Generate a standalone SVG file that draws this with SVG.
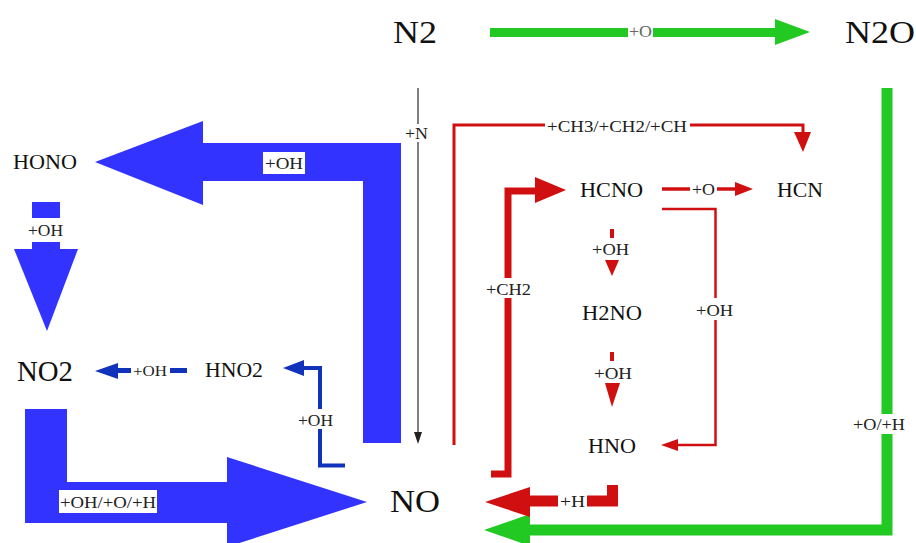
<svg xmlns="http://www.w3.org/2000/svg" width="916" height="543" viewBox="0 0 916 543">
<style>
text{font-family:"Liberation Serif","Times New Roman",serif;fill:#111}
.big{font-size:31px}
.mid{font-size:21px}
.lbl{font-size:16px;fill:#222}
.bg{fill:#fff}
.blue{fill:#3333ff}
.dblue{fill:#1133bb}
.dbl{stroke:#1133bb;fill:none}
.red{fill:#d01010}
.rl{stroke:#d01010;fill:none}
.green{fill:#22c922}
.gl{stroke:#22c922;fill:none}
</style>
<rect width="916" height="543" fill="#fff"/>
<g id="connectors">
  <g id="e-n2-n2o">
    <rect class="green" x="490" y="28" width="287" height="9"/>
    <polygon class="green" points="775,19 810,32 775,45"/>
    <rect class="bg" x="628" y="25" width="25" height="14"/>
    <text class="lbl" x="629" y="37" textLength="23" lengthAdjust="spacingAndGlyphs" style="fill:#666">+O</text>
  </g>
  <g id="e-n2o-no">
    <path class="gl" d="M887,88 V530 H528" stroke-width="11"/>
    <polygon class="green" points="530,514 484,530 530,546"/>
    <rect class="bg" x="852" y="414" width="55" height="20"/>
    <text class="lbl" x="853" y="430" textLength="52" lengthAdjust="spacingAndGlyphs">+O/+H</text>
  </g>
  <g id="e-n2-no">
    <line x1="418" y1="88" x2="418" y2="434" stroke="#555" stroke-width="1.5"/>
    <polygon fill="#222" points="414,432 422,432 418,444"/>
    <rect class="bg" x="404" y="124" width="26" height="18"/>
    <text class="lbl" x="405" y="139" textLength="23" lengthAdjust="spacingAndGlyphs">+N</text>
  </g>
  <g id="e-no-hono">
    <polygon class="blue" points="401,443 363,443 363,181 203,181 203,205 95,162 203,121 203,143 401,143"/>
    <rect class="bg" x="263" y="152" width="42" height="22"/>
    <text class="lbl" x="265" y="169" textLength="38" lengthAdjust="spacingAndGlyphs">+OH</text>
  </g>
  <g id="e-hono-no2">
    <rect class="blue" x="32" y="202" width="28" height="16"/>
    <rect class="blue" x="32" y="242" width="28" height="7"/>
    <polygon class="blue" points="14,249 78,249 47,331"/>
    <text class="lbl" x="28" y="236" textLength="35" lengthAdjust="spacingAndGlyphs">+OH</text>
  </g>
  <g id="e-no2-no">
    <polygon class="blue" points="25,409 67,409 67,482 227,482 227,457 367,502 227,547 227,523 25,523"/>
    <rect class="bg" x="59" y="490" width="98" height="23"/>
    <text class="lbl" x="60" y="508" textLength="96" lengthAdjust="spacingAndGlyphs">+OH/+O/+H</text>
  </g>
  <g id="e-hno2-no2">
    <polygon class="dblue" points="118,363 95,371 118,379"/>
    <rect class="dblue" x="116" y="368" width="15" height="5"/>
    <rect class="dblue" x="170" y="368" width="17" height="5"/>
    <text class="lbl" x="133" y="376" textLength="34" lengthAdjust="spacingAndGlyphs" style="font-size:14px">+OH</text>
  </g>
  <g id="e-no-hno2">
    <path class="dbl" d="M345,465.5 H320 V368 H302" stroke-width="4"/>
    <polygon class="dblue" points="304,360 283,368 304,376"/>
    <rect class="bg" x="296" y="409" width="40" height="20"/>
    <text class="lbl" x="298" y="426" textLength="35" lengthAdjust="spacingAndGlyphs">+OH</text>
  </g>
  <g id="e-no-hcn">
    <path class="rl" d="M454,445 V125 H803 V134" stroke-width="3"/>
    <polygon class="red" points="794,132 811,132 803,152"/>
    <rect class="bg" x="545" y="115" width="145" height="20"/>
    <text class="lbl" x="547" y="132" textLength="140" lengthAdjust="spacingAndGlyphs">+CH3/+CH2/+CH</text>
  </g>
  <g id="e-no-hcno">
    <path class="rl" d="M491,474 H508 V191 H537" stroke-width="7"/>
    <polygon class="red" points="535,177 566,190 535,203"/>
    <rect class="bg" x="484" y="278" width="50" height="20"/>
    <text class="lbl" x="486" y="295" textLength="45" lengthAdjust="spacingAndGlyphs">+CH2</text>
  </g>
  <g id="e-hcno-hcn">
    <line class="rl" x1="662" y1="189" x2="737" y2="189" stroke-width="3.5"/>
    <polygon class="red" points="735,182 753,189 735,196"/>
    <rect class="bg" x="690" y="180" width="27" height="18"/>
    <text class="lbl" x="692" y="195" textLength="23" lengthAdjust="spacingAndGlyphs">+O</text>
  </g>
  <g id="e-hcno-hno">
    <path class="rl" d="M662,209 H715.5 V445 H676" stroke-width="2.5"/>
    <polygon class="red" points="678,439 661,445 678,451"/>
    <rect class="bg" x="694" y="298" width="41" height="22"/>
    <text class="lbl" x="696" y="316" textLength="37" lengthAdjust="spacingAndGlyphs">+OH</text>
  </g>
  <g id="e-hcno-h2no">
    <rect class="red" x="610" y="229" width="4" height="9"/>
    <polygon class="red" points="605,260 619,260 612,276"/>
    <text class="lbl" x="592" y="255" textLength="37" lengthAdjust="spacingAndGlyphs">+OH</text>
  </g>
  <g id="e-h2no-hno">
    <rect class="red" x="610" y="352" width="4" height="9"/>
    <polygon class="red" points="605,383 620,383 612,407"/>
    <text class="lbl" x="594" y="379" textLength="38" lengthAdjust="spacingAndGlyphs">+OH</text>
  </g>
  <g id="e-hno-no">
    <path class="rl" d="M612.5,485 V501 H528" stroke-width="11"/>
    <polygon class="red" points="530,487 485,502 530,517"/>
    <rect class="bg" x="558" y="492" width="29" height="18"/>
    <text class="lbl" x="560" y="507" textLength="25" lengthAdjust="spacingAndGlyphs">+H</text>
  </g>
</g>
<g id="n-n2"><text class="big" x="393" y="43" textLength="44" lengthAdjust="spacingAndGlyphs">N2</text></g>
<g id="n-n2o"><text class="big" x="845" y="43" textLength="70" lengthAdjust="spacingAndGlyphs">N2O</text></g>
<g id="n-no"><text class="big" x="390" y="512" textLength="50" lengthAdjust="spacingAndGlyphs">NO</text></g>
<g id="n-no2"><text class="big" x="17" y="381" textLength="56" lengthAdjust="spacingAndGlyphs" style="font-size:29px">NO2</text></g>
<g id="n-hono"><text class="mid" x="13" y="169" textLength="64" lengthAdjust="spacingAndGlyphs">HONO</text></g>
<g id="n-hno2"><text class="mid" x="205" y="377" textLength="58" lengthAdjust="spacingAndGlyphs">HNO2</text></g>
<g id="n-hcno"><text class="mid" x="580" y="197" textLength="63" lengthAdjust="spacingAndGlyphs">HCNO</text></g>
<g id="n-hcn"><text class="mid" x="777" y="197" textLength="46" lengthAdjust="spacingAndGlyphs">HCN</text></g>
<g id="n-h2no"><text class="mid" x="582" y="320" textLength="60" lengthAdjust="spacingAndGlyphs">H2NO</text></g>
<g id="n-hno"><text class="mid" x="588" y="453" textLength="48" lengthAdjust="spacingAndGlyphs">HNO</text></g>
</svg>
